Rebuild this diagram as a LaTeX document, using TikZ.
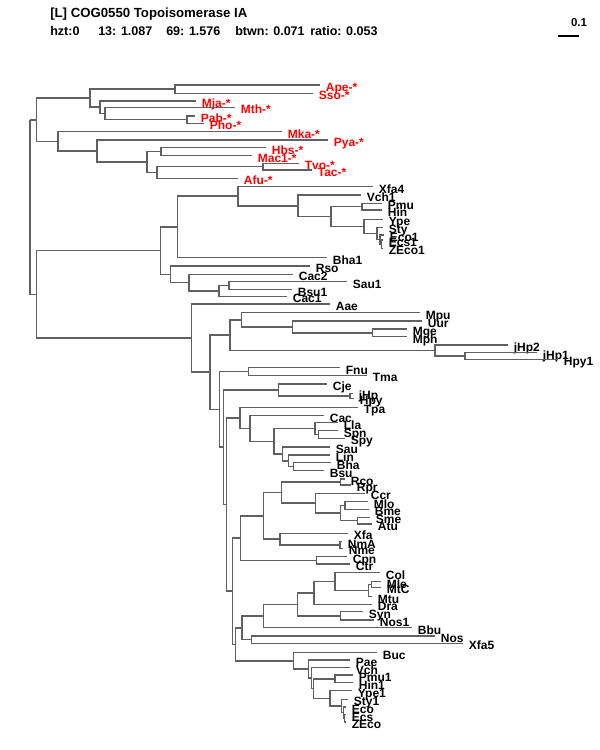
\documentclass[tikz,border=0pt]{standalone}
\usepackage{fontspec}
\setmainfont{Liberation Sans}
\definecolor{grigio}{HTML}{606060}
\tikzset{
  ramo/.style={draw=grigio, line width=1.1pt},
  foglia/.style={font=\fontsize{9}{10}\selectfont\bfseries, inner sep=0pt, text height=6.5pt, text depth=0pt, label distance=4.2pt, yshift=-1.7pt},
  arch/.style={foglia, text=red},
  titolo/.style={font=\fontsize{9.4}{11}\selectfont\bfseries, inner sep=0pt, anchor=west},
}
\begin{document}
\begin{tikzpicture}[x=0.75pt,y=-0.75pt]
        \useasboundingbox (0,0) rectangle (600,750);
        %titolo
        \node[titolo, font=\fontsize{9.9}{11}\selectfont\bfseries] (tit) at (50,14) {[L] COG0550 Topoisomerase IA};
        \node[titolo] (hzt) at (50,31) {hzt:0};
        \node[titolo] (n13) at (98,31) {13: 1.087};
        \node[titolo] (n69) at (166,31) {69: 1.576};
        \node[titolo] (btwn) at (235,31) {btwn: 0.071};
        \node[titolo] (ratio) at (310,31) {ratio: 0.053};
        %scala
        \coordinate (s0) at (558,36);
        \coordinate (s1) at (579,36);
        \draw[line width=0.8pt] (s0) -- (s1);
        \node[titolo, anchor=center, font=\fontsize{8.6}{10}\selectfont\bfseries] (sc) at (579,23) {0.1};
        %radice
        \coordinate (r) at (30,119.8);
        %archei
        \coordinate (a) at (36.7,119.8);
        \coordinate (a1) at (90,98.2);
        \coordinate (a11) at (175,89.2);
        \coordinate (a12) at (100,107.2);
        \coordinate (a121) at (105,113.5);
        \coordinate (a122) at (187,119.7);
        \coordinate (a2) at (58,141.4);
        \coordinate (a21) at (97,151.1);
        \coordinate (a211) at (147,162.1);
        \coordinate (a2111) at (161,151.7);
        \coordinate (a2112) at (157,172.5);
        \coordinate (a21121) at (263,166.7);
        \coordinate[label={[arch]right:Ape-*}] (ape) at (320,85);
        \coordinate[label={[arch]right:Sso-*}] (sso) at (313,93.3);
        \coordinate[label={[arch]right:Mja-*}] (mja) at (196,101);
        \coordinate[label={[arch]right:Mth-*}] (mth) at (235,107.3);
        \coordinate[label={[arch]right:Pab-*}] (pab) at (195,116);
        \coordinate[label={[arch]right:Pho-*}] (pho) at (204,123.3);
        \coordinate[label={[arch]right:Mka-*}] (mka) at (282,131.7);
        \coordinate[label={[arch]right:Pya-*}] (pya) at (328,140);
        \coordinate[label={[arch]right:Hbs-*}] (hbs) at (266,147.7);
        \coordinate[label={[arch]right:Mac1-*}] (mac1) at (252,155.7);
        \coordinate[label={[arch]right:Tvo-*}] (tvo) at (299,163.3);
        \coordinate[label={[arch]right:Tac-*}] (tac) at (312,170);
        \coordinate[label={[arch]right:Afu-*}] (afu) at (238,178.3);
        \draw[ramo] (r) |- (a);
        \draw[ramo] (a) |- (a1) (a) |- (a2);
        \draw[ramo] (a1) |- (a11) (a1) |- (a12);
        \draw[ramo] (a11) |- (ape) (a11) |- (sso);
        \draw[ramo] (a12) |- (mja) (a12) |- (a121);
        \draw[ramo] (a121) |- (mth) (a121) |- (a122);
        \draw[ramo] (a122) |- (pab) (a122) |- (pho);
        \draw[ramo] (a2) |- (mka) (a2) |- (a21);
        \draw[ramo] (a21) |- (pya) (a21) |- (a211);
        \draw[ramo] (a211) |- (a2111) (a211) |- (a2112);
        \draw[ramo] (a2111) |- (hbs) (a2111) |- (mac1);
        \draw[ramo] (a2112) |- (a21121) (a2112) |- (afu);
        \draw[ramo] (a21121) |- (tvo) (a21121) |- (tac);
        %batteri
        \coordinate (b) at (36.7,294.4);
        \coordinate (b1) at (160.7,250.6);
        \coordinate (b11) at (177.7,227);
        \coordinate (b111) at (238,196.2);
        \coordinate (b1111) at (298,205.8);
        \coordinate (b11111) at (331,216.5);
        \coordinate (b111111) at (362,206.7);
        \coordinate (b111112) at (364,226.4);
        \coordinate (b1111121) at (377,233.4);
        \coordinate (e1) at (380,239.6);
        \coordinate (e2) at (381.7,244.2);
        \coordinate (b12) at (170.7,274.3);
        \coordinate (b121) at (189,282.6);
        \coordinate (b1211) at (219,291);
        \coordinate (b12111) at (229,285.6);
        \coordinate[label={[foglia]right:Xfa4}] (xfa4) at (373,186.7);
        \coordinate[label={[foglia]right:Vch1}] (vch1) at (361,195);
        \coordinate[label={[foglia]right:Pmu}] (pmu) at (382,203.3);
        \coordinate[label={[foglia]right:Hin}] (hin) at (382,210);
        \coordinate[label={[foglia]right:Ype}] (ype) at (383,219.3);
        \coordinate[label={[foglia]right:Sty}] (sty) at (383,227.3);
        \coordinate[label={[foglia]right:Eco1}] (eco1) at (384,235);
        \coordinate[label={[foglia]right:Ecs1}] (ecs1) at (383,240);
        \coordinate[label={[foglia]right:ZEco1}] (zeco1) at (383,248.3);
        \coordinate[label={[foglia]right:Bha1}] (bha1) at (327,257.7);
        \coordinate[label={[foglia]right:Rso}] (rso) at (310,266);
        \coordinate[label={[foglia]right:Cac2}] (cac2) at (293,274.3);
        \coordinate[label={[foglia]right:Sau1}] (sau1) at (347,281.7);
        \coordinate[label={[foglia]right:Bsu1}] (bsu1) at (292,289.5);
        \coordinate[label={[foglia]right:Cac1}] (cac1) at (287,296.3);
        \draw[ramo] (r) |- (b);
        \draw[ramo] (b) |- (b1);
        \draw[ramo] (b1) |- (b11) (b1) |- (b12);
        \draw[ramo] (b11) |- (b111) (b11) |- (bha1);
        \draw[ramo] (b111) |- (xfa4) (b111) |- (b1111);
        \draw[ramo] (b1111) |- (vch1) (b1111) |- (b11111);
        \draw[ramo] (b11111) |- (b111111) (b11111) |- (b111112);
        \draw[ramo] (b111111) |- (pmu) (b111111) |- (hin);
        \draw[ramo] (b111112) |- (ype) (b111112) |- (b1111121);
        \draw[ramo] (b1111121) |- (sty) (b1111121) |- (e1);
        \draw[ramo] (e1) |- (eco1) (e1) |- (e2);
        \draw[ramo] (e2) |- (ecs1) (e2) |- (zeco1);
        \draw[ramo] (b12) |- (rso) (b12) |- (b121);
        \draw[ramo] (b121) |- (cac2) (b121) |- (b1211);
        \draw[ramo] (b1211) |- (b12111) (b1211) |- (cac1);
        \draw[ramo] (b12111) |- (sau1) (b12111) |- (bsu1);
        %mollicutes e helicobacter
        \coordinate (b2) at (191.7,338.1);
        \coordinate (b21) at (210,372.2);
        \coordinate (b211) at (230,335.2);
        \coordinate (b2111) at (241.7,319.8);
        \coordinate (b21111) at (292.7,326.9);
        \coordinate (b211111) at (372.7,332.8);
        \coordinate (b2112) at (435,350.5);
        \coordinate (b21121) at (465,356);
        \coordinate (b212) at (219.3,409.3);
        \coordinate (b2121) at (248.3,371.4);
        \coordinate (b2122) at (223.3,447.2);
        \coordinate (b21221) at (278.3,389.9);
        \coordinate (b212211) at (350,395.8);
        \coordinate[label={[foglia]right:Aae}] (aae) at (330,304);
        \coordinate[label={[foglia]right:Mpu}] (mpu) at (420,312.7);
        \coordinate[label={[foglia]right:Uur}] (uur) at (422,321);
        \coordinate[label={[foglia]right:Mge}] (mge) at (407,329);
        \coordinate[label={[foglia]right:Mph}] (mph) at (407,336.7);
        \coordinate[label={[foglia]right:jHp2}] (jhp2) at (508,345);
        \coordinate[label={[foglia]right:jHp1}] (jhp1) at (537,352.7);
        \coordinate[label={[foglia]right:Hpy1}] (hpy1) at (558,359.3);
        \coordinate[label={[foglia]right:Fnu}] (fnu) at (340,367.5);
        \coordinate[label={[foglia]right:Tma}] (tma) at (367,375.3);
        \coordinate[label={[foglia]right:Cje}] (cje) at (327,384);
        \coordinate[label={[foglia]right:jHp}] (jhp) at (353,393.3);
        \coordinate[label={[foglia]right:Hpy}] (hpy) at (354,398.3);
        \draw[ramo] (b) |- (b2);
        \draw[ramo] (b2) |- (aae) (b2) |- (b21);
        \draw[ramo] (b21) |- (b211) (b21) |- (b212);
        \draw[ramo] (b211) |- (b2111) (b211) |- (b2112);
        \draw[ramo] (b2111) |- (mpu) (b2111) |- (b21111);
        \draw[ramo] (b21111) |- (uur) (b21111) |- (b211111);
        \draw[ramo] (b211111) |- (mge) (b211111) |- (mph);
        \draw[ramo] (b2112) |- (jhp2) (b2112) |- (b21121);
        \draw[ramo] (b21121) |- (jhp1) (b21121) |- (hpy1);
        \draw[ramo] (b212) |- (b2121) (b212) |- (b2122);
        \draw[ramo] (b2121) |- (fnu) (b2121) |- (tma);
        \draw[ramo] (b2122) |- (b21221);
        \draw[ramo] (b21221) |- (cje) (b21221) |- (b212211);
        \draw[ramo] (b212211) |- (jhp) (b212211) |- (hpy);
        %firmicutes
        \coordinate (c) at (226.7,504.6);
        \coordinate (c1) at (240,417.9);
        \coordinate (c11) at (250,428.4);
        \coordinate (c111) at (274,441.3);
        \coordinate (c1111) at (315,428.6);
        \coordinate (c11111) at (318.3,434.5);
        \coordinate (c1112) at (282.7,453.9);
        \coordinate (c11121) at (288.3,460.9);
        \coordinate (c111211) at (293.3,466.7);
        \coordinate[label={[foglia]right:Tpa}] (tpa) at (358,407.3);
        \coordinate[label={[foglia]right:Cac}] (cac) at (324,415.5);
        \coordinate[label={[foglia]right:Lla}] (lla) at (338,422.7);
        \coordinate[label={[foglia]right:Spn}] (spn) at (338,430.7);
        \coordinate[label={[foglia]right:Spy}] (spy) at (345,438.3);
        \coordinate[label={[foglia]right:Sau}] (sau) at (330,447);
        \coordinate[label={[foglia]right:Lin}] (lin) at (330,455);
        \coordinate[label={[foglia]right:Bha}] (bha) at (331,462.7);
        \coordinate[label={[foglia]right:Bsu}] (bsu) at (324,470.7);
        \draw[ramo] (b2122) |- (c);
        \draw[ramo] (c) |- (c1);
        \draw[ramo] (c1) |- (tpa) (c1) |- (c11);
        \draw[ramo] (c11) |- (cac) (c11) |- (c111);
        \draw[ramo] (c111) |- (c1111) (c111) |- (c1112);
        \draw[ramo] (c1111) |- (lla) (c1111) |- (c11111);
        \draw[ramo] (c11111) |- (spn) (c11111) |- (spy);
        \draw[ramo] (c1112) |- (sau) (c1112) |- (c11121);
        \draw[ramo] (c11121) |- (lin) (c11121) |- (c111211);
        \draw[ramo] (c111211) |- (bha) (c111211) |- (bsu);
        %proteobatteri e clamidie
        \coordinate (c2) at (232.7,591.2);
        \coordinate (c21) at (240.7,538.1);
        \coordinate (c211) at (263.3,515.9);
        \coordinate (c2111) at (281.7,492.6);
        \coordinate (c21111) at (340.7,482);
        \coordinate (c21112) at (315.7,503.2);
        \coordinate (c211121) at (340.7,513.1);
        \coordinate (c2111211) at (345,505.5);
        \coordinate (c2111212) at (357.3,520.7);
        \coordinate (c2112) at (280,539.2);
        \coordinate (c21121) at (340,545);
        \coordinate (c212) at (316.7,560.4);
        \coordinate[label={[foglia]right:Rco}] (rco) at (345,479);
        \coordinate[label={[foglia]right:Rpr}] (rpr) at (351,485);
        \coordinate[label={[foglia]right:Ccr}] (ccr) at (365,493.3);
        \coordinate[label={[foglia]right:Mlo}] (mlo) at (368,501.7);
        \coordinate[label={[foglia]right:Bme}] (bme) at (369,509.3);
        \coordinate[label={[foglia]right:Sme}] (sme) at (370,517.3);
        \coordinate[label={[foglia]right:Atu}] (atu) at (372,524);
        \coordinate[label={[foglia]right:Xfa}] (xfa) at (348,533.3);
        \coordinate[label={[foglia]right:NmA}] (nma) at (342,541.7);
        \coordinate[label={[foglia]right:Nme}] (nme) at (343,548.3);
        \coordinate[label={[foglia]right:Cpn}] (cpn) at (347,556.7);
        \coordinate[label={[foglia]right:Ctr}] (ctr) at (350,564);
        \draw[ramo] (c) |- (c2);
        \draw[ramo] (c2) |- (c21);
        \draw[ramo] (c21) |- (c211) (c21) |- (c212);
        \draw[ramo] (c211) |- (c2111) (c211) |- (c2112);
        \draw[ramo] (c2111) |- (c21111) (c2111) |- (c21112);
        \draw[ramo] (c21111) |- (rco) (c21111) |- (rpr);
        \draw[ramo] (c21112) |- (ccr) (c21112) |- (c211121);
        \draw[ramo] (c211121) |- (c2111211) (c211121) |- (c2111212);
        \draw[ramo] (c2111211) |- (mlo) (c2111211) |- (bme);
        \draw[ramo] (c2111212) |- (sme) (c2111212) |- (atu);
        \draw[ramo] (c2112) |- (xfa) (c2112) |- (c21121);
        \draw[ramo] (c21121) |- (nma) (c21121) |- (nme);
        \draw[ramo] (c212) |- (cpn) (c212) |- (ctr);
        %actinobatteri, cianobatteri
        \coordinate (c22) at (235.7,644.3);
        \coordinate (c221) at (242,627.8);
        \coordinate (c2211) at (263.3,616);
        \coordinate (c22111) at (297.3,604.4);
        \coordinate (c221111) at (314,593);
        \coordinate (c2211111) at (335,581.7);
        \coordinate (m1) at (368.3,590.6);
        \coordinate (m2) at (371.7,584.5);
        \coordinate (c221112) at (340.7,615.9);
        \coordinate (c2212) at (251.7,639.7);
        \coordinate[label={[foglia]right:Col}] (col) at (380,572.7);
        \coordinate[label={[foglia]right:Mle}] (mle) at (381,581.7);
        \coordinate[label={[foglia]right:MtC}] (mtc) at (381,587.3);
        \coordinate[label={[foglia]right:Mtu}] (mtu) at (372,596.7);
        \coordinate[label={[foglia]right:Dra}] (dra) at (372,604.3);
        \coordinate[label={[foglia]right:Syn}] (syn) at (363,611.7);
        \coordinate[label={[foglia]right:Nos1}] (nos1) at (374,620);
        \coordinate[label={[foglia]right:Bbu}] (bbu) at (412,627.7);
        \coordinate[label={[foglia]right:Nos}] (nos) at (435,636);
        \coordinate[label={[foglia]right:Xfa5}] (xfa5) at (463,643.3);
        \draw[ramo] (c2) |- (c22);
        \draw[ramo] (c22) |- (c221);
        \draw[ramo] (c221) |- (c2211) (c221) |- (c2212);
        \draw[ramo] (c2211) |- (c22111) (c2211) |- (bbu);
        \draw[ramo] (c22111) |- (c221111) (c22111) |- (c221112);
        \draw[ramo] (c221111) |- (c2211111) (c221111) |- (dra);
        \draw[ramo] (c2211111) |- (col) (c2211111) |- (m1);
        \draw[ramo] (m1) |- (m2) (m1) |- (mtu);
        \draw[ramo] (m2) |- (mle) (m2) |- (mtc);
        \draw[ramo] (c221112) |- (syn) (c221112) |- (nos1);
        \draw[ramo] (c2212) |- (nos) (c2212) |- (xfa5);
        %gamma
        \coordinate (g) at (293.3,660.9);
        \coordinate (g1) at (308.3,669);
        \coordinate (g2) at (311.7,678.1);
        \coordinate (g3) at (313.3,688.6);
        \coordinate (g4) at (335,678.8);
        \coordinate (g5) at (330,698.3);
        \coordinate (g6) at (341.7,706);
        \coordinate (g7) at (343.3,712.6);
        \coordinate (g8) at (344.3,718.3);
        \coordinate[label={[foglia]right:Buc}] (buc) at (377,652.7);
        \coordinate[label={[foglia]right:Pae}] (pae) at (350,660);
        \coordinate[label={[foglia]right:Vch}] (vch) at (350,667.7);
        \coordinate[label={[foglia]right:Pmu1}] (pmu1) at (353,675);
        \coordinate[label={[foglia]right:Hin1}] (hin1) at (353,682.7);
        \coordinate[label={[foglia]right:Ype1}] (ype1) at (352,690.7);
        \coordinate[label={[foglia]right:Sty1}] (sty1) at (348,699.3);
        \coordinate[label={[foglia]right:Eco}] (eco) at (346,707);
        \coordinate[label={[foglia]right:Ecs}] (ecs) at (346,714.5);
        \coordinate[label={[foglia]right:ZEco}] (zeco) at (346,722);
        \draw[ramo] (c22) |- (g);
        \draw[ramo] (g) |- (buc) (g) |- (g1);
        \draw[ramo] (g1) |- (pae) (g1) |- (g2);
        \draw[ramo] (g2) |- (vch) (g2) |- (g3);
        \draw[ramo] (g3) |- (g4) (g3) |- (g5);
        \draw[ramo] (g4) |- (pmu1) (g4) |- (hin1);
        \draw[ramo] (g5) |- (ype1) (g5) |- (g6);
        \draw[ramo] (g6) |- (sty1) (g6) |- (g7);
        \draw[ramo] (g7) |- (eco) (g7) |- (g8);
        \draw[ramo] (g8) |- (ecs) (g8) |- (zeco);
    \end{tikzpicture}
\end{document}
